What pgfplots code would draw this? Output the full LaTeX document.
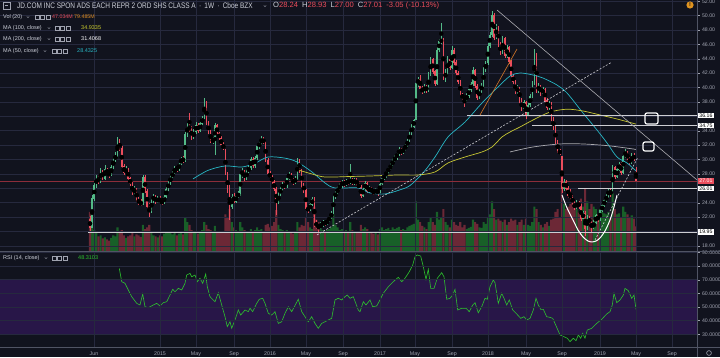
\documentclass[border=0pt]{standalone}
\usepackage{fontspec}
\setmainfont{Liberation Sans}
\usepackage{pgfplots}
\usepackage{pgfplotstable}
\pgfplotsset{compat=1.18}
\definecolor{bg}{RGB}{17,19,30}
\definecolor{gridc}{RGB}{38,41,62}
\definecolor{txt}{RGB}{205,208,218}
\definecolor{tickc}{RGB}{160,163,176}
\definecolor{cgreen}{RGB}{83,185,135}
\definecolor{cred}{RGB}{235,77,92}
\definecolor{vgreen}{RGB}{24,96,40}
\definecolor{vred}{RGB}{108,40,54}
\definecolor{ma50}{RGB}{40,182,196}
\definecolor{ma100}{RGB}{200,200,52}
\definecolor{ma200}{RGB}{170,170,175}
\definecolor{rsic}{RGB}{45,195,45}
\definecolor{band}{RGB}{40,22,72}
\definecolor{orangec}{RGB}{215,120,40}
\definecolor{sepc}{RGB}{80,84,100}
\definecolor{wl}{RGB}{205,205,210}
\definecolor{rline}{RGB}{140,45,58}

\pgfplotstableread{
o h l c v
21.75 22.10 20.10 20.50 75
20.60 25.10 20.50 24.60 60
24.60 26.80 24.20 26.40 40
26.40 27.90 26.00 27.50 35
27.50 27.80 26.60 27.00 28
27.00 28.80 26.80 28.40 30
28.40 28.60 27.20 27.40 24
27.40 29.20 27.20 28.60 26
28.60 28.90 27.80 28.10 22
28.10 28.50 27.40 27.90 20
27.90 29.30 27.70 28.90 25
28.90 30.40 28.70 30.00 30
30.00 31.00 29.60 30.60 28
30.60 33.10 30.40 32.40 45
32.40 32.80 31.20 31.60 35
31.60 31.90 28.80 29.00 40
29.00 29.40 27.90 28.20 30
28.20 29.10 27.90 28.60 25
28.60 28.80 27.10 27.40 28
27.40 27.60 26.30 26.60 30
26.60 26.90 25.10 25.40 35
25.40 26.30 25.10 25.80 28
25.80 26.00 24.10 24.40 32
24.40 24.80 23.70 24.00 30
24.00 24.50 23.50 23.80 27
23.80 27.90 23.70 27.50 50
27.50 27.80 25.30 25.60 42
25.60 25.90 23.10 23.40 45
23.40 23.90 22.00 22.90 50
22.90 24.70 22.60 24.40 38
24.40 25.20 24.00 24.90 30
24.90 25.10 23.80 24.10 28
24.10 24.90 23.90 24.60 26
24.60 24.90 23.90 24.20 30
24.20 24.50 23.70 24.00 28
24.00 25.10 23.80 24.80 33
24.80 26.20 24.60 25.90 36
25.90 27.00 25.70 26.80 38
26.80 27.90 26.50 27.60 35
27.60 28.40 27.40 28.10 32
28.10 29.10 27.90 28.80 34
28.80 29.20 28.30 28.60 30
28.60 29.70 28.40 29.40 33
29.40 30.40 29.20 30.10 35
30.10 30.50 29.50 29.80 32
29.80 33.80 29.60 33.50 65
33.50 35.10 33.20 34.60 55
34.60 36.50 33.90 34.30 50
34.30 34.70 32.70 33.00 40
33.00 34.20 32.80 33.90 35
33.90 35.20 33.50 34.80 38
34.80 35.10 33.70 34.00 33
34.00 35.30 33.80 35.00 35
35.00 36.10 34.80 35.80 40
35.80 38.50 35.60 37.90 55
37.90 38.10 34.80 35.00 50
35.00 35.30 33.50 33.80 42
33.80 34.10 32.30 32.60 40
32.60 33.20 32.20 32.60 35
32.60 35.10 30.60 34.70 48
34.70 35.00 33.30 33.60 38
33.60 33.90 32.70 33.00 35
33.00 33.30 31.70 32.00 36
32.00 32.40 31.30 31.60 34
31.20 31.50 27.80 28.00 70
28.00 28.30 25.30 25.60 65
25.60 26.40 21.60 23.40 80
23.40 25.20 23.10 24.80 55
24.80 25.30 23.90 24.20 45
24.20 25.20 23.90 24.90 40
24.90 25.60 24.60 25.20 38
25.20 28.20 25.00 27.90 55
27.90 28.90 27.50 28.30 45
28.30 28.50 27.00 27.30 40
27.30 28.70 27.10 28.40 38
28.40 29.20 28.10 28.80 36
28.80 30.40 28.60 30.00 42
30.00 30.30 28.90 29.20 38
29.20 30.50 28.90 30.20 40
30.20 32.10 30.00 31.80 45
31.80 32.60 31.50 32.30 40
32.30 33.30 32.00 32.80 42
32.80 33.10 32.10 32.40 36
32.40 32.60 29.70 29.90 50
29.90 30.20 27.80 28.00 52
28.00 28.40 27.30 27.60 45
27.60 27.90 26.60 26.90 48
26.90 27.20 25.60 25.90 55
25.90 26.20 22.30 24.00 78
24.00 25.50 23.80 25.20 50
25.20 26.30 24.90 26.00 42
26.00 26.90 25.70 26.60 40
26.60 26.90 25.90 26.20 36
26.20 27.70 26.00 27.40 40
27.40 28.30 27.20 27.90 38
27.90 28.10 26.90 27.20 35
27.20 27.40 26.50 26.80 33
26.80 27.70 26.60 27.40 35
27.40 30.20 27.20 29.90 55
29.90 30.10 28.20 28.50 45
28.50 28.70 26.10 26.40 50
26.40 26.70 25.40 25.70 48
25.70 25.90 22.90 23.20 65
23.20 23.60 22.60 23.00 55
23.00 24.10 22.80 23.80 45
23.80 24.80 23.50 24.50 42
24.50 24.80 20.60 21.20 85
21.20 21.60 20.40 20.80 60
20.80 21.20 20.00 20.60 55
20.60 21.30 20.40 20.90 45
20.90 21.60 20.70 21.30 40
21.30 21.50 20.80 21.10 38
21.10 21.80 20.90 21.50 40
21.50 22.20 21.30 21.90 42
21.90 22.90 21.70 22.60 45
22.60 25.10 22.40 24.80 70
24.80 25.70 24.50 25.40 50
25.40 26.30 25.10 26.00 45
26.00 26.70 25.70 26.40 40
26.40 27.20 26.10 26.90 42
26.90 27.10 26.20 26.50 38
26.50 27.30 26.30 27.00 40
27.00 27.20 26.50 26.80 36
26.80 29.40 26.60 27.30 55
27.30 27.50 26.40 26.70 40
26.70 27.50 26.50 27.20 38
27.20 27.40 26.30 26.60 36
26.60 26.80 25.90 26.20 38
26.20 26.40 24.70 25.00 50
25.00 26.20 24.80 25.90 42
25.90 27.00 25.70 26.70 45
26.70 26.90 25.30 25.60 42
25.60 26.30 25.40 26.00 38
26.00 26.20 25.30 25.60 35
25.60 25.80 25.10 25.40 33
25.40 26.10 25.20 25.80 35
25.80 26.00 25.00 25.50 32
25.50 26.90 25.30 26.60 42
26.60 27.70 26.40 27.40 45
27.40 28.10 27.10 27.80 40
27.80 28.60 27.50 28.30 42
28.30 29.10 28.00 28.80 44
28.80 29.50 28.50 29.20 40
29.20 30.20 28.90 29.90 45
29.90 30.60 29.60 30.30 42
30.30 31.10 30.00 30.80 44
30.80 31.70 30.50 31.40 46
31.40 31.60 30.60 31.00 40
31.00 31.80 30.80 31.50 42
31.50 32.20 31.20 31.90 40
31.90 32.90 31.70 32.60 45
32.60 33.90 32.40 33.60 48
33.60 34.90 33.40 34.60 50
34.60 35.70 34.40 35.40 52
35.60 40.90 35.50 40.60 95
40.60 41.50 40.10 41.20 60
41.20 41.80 39.50 39.80 55
39.80 40.20 39.10 39.50 48
39.50 40.50 39.20 40.10 45
40.10 40.40 39.30 39.60 42
39.60 42.20 39.40 41.80 55
41.80 44.30 41.60 43.90 65
43.90 44.10 41.90 42.20 55
42.20 42.40 40.20 40.50 50
40.50 45.60 40.30 45.20 75
45.20 46.70 44.90 46.40 60
46.40 49.00 46.00 46.60 65
46.60 46.90 41.00 41.50 80
41.50 42.60 40.80 42.00 55
42.00 44.40 41.70 44.00 50
44.00 44.20 42.40 42.80 45
42.80 45.80 42.60 45.20 60
45.20 45.50 43.20 43.50 55
43.50 43.80 41.70 42.00 50
42.00 42.30 40.50 40.80 48
40.80 41.10 38.70 39.00 55
39.00 39.30 38.30 38.60 45
38.60 38.90 37.30 38.30 50
38.30 39.30 38.00 38.90 42
38.90 40.00 38.60 39.70 44
39.70 40.80 39.40 40.50 46
40.50 42.90 40.20 42.40 60
42.40 42.60 39.90 40.20 55
40.20 40.50 38.30 38.60 52
38.60 39.90 38.40 39.60 45
39.60 40.60 39.30 40.30 44
40.30 42.80 40.10 42.50 55
42.50 43.70 42.20 43.40 52
43.40 46.20 43.20 45.80 65
45.80 47.70 45.50 47.30 70
47.30 50.70 47.00 50.00 95
50.00 50.30 46.60 47.00 80
47.00 48.80 46.70 48.40 60
48.40 48.60 45.70 46.00 62
46.00 46.30 44.50 44.80 58
44.80 47.20 44.60 46.80 55
46.80 47.00 44.10 44.40 60
44.40 45.90 44.10 45.60 50
45.60 45.80 43.30 43.60 55
43.60 43.90 41.30 41.60 62
41.60 41.90 40.50 40.80 58
40.80 41.10 39.10 39.40 60
39.40 40.30 39.10 39.90 50
39.90 40.10 37.90 38.20 55
38.20 38.50 36.70 37.00 60
37.00 38.30 36.80 38.00 50
38.00 38.20 35.60 36.20 62
36.20 37.90 36.00 37.60 50
37.60 39.10 37.30 38.80 48
38.80 40.90 38.50 40.60 55
40.60 45.40 40.30 44.50 85
44.50 44.80 39.30 39.60 80
39.60 40.60 39.30 40.20 55
40.20 40.40 38.90 39.20 50
39.20 40.10 38.90 39.80 45
39.80 40.00 37.90 38.20 52
38.20 38.50 36.90 37.20 55
37.20 38.10 36.90 37.80 48
37.80 38.00 35.30 35.60 60
35.60 35.90 34.10 34.40 62
34.40 34.70 32.10 32.40 75
32.40 32.70 30.90 31.20 80
31.20 31.50 30.60 30.90 65
30.40 30.50 25.40 26.00 140
26.00 27.30 25.70 26.90 90
26.90 27.10 25.70 26.00 80
26.00 26.30 24.70 25.00 85
25.00 25.90 24.40 24.80 90
24.80 25.10 23.60 23.90 95
23.90 24.20 23.00 23.30 85
23.30 24.40 23.10 24.00 80
24.00 24.30 23.20 23.50 75
23.50 23.80 21.50 21.80 100
21.80 22.90 21.50 22.60 85
22.60 22.90 19.40 20.40 120
20.40 22.30 20.20 21.80 95
21.80 22.10 21.00 21.30 80
21.30 21.60 20.00 20.50 90
20.50 21.70 20.30 21.20 85
21.20 22.50 21.00 22.20 80
22.20 22.40 21.30 21.60 70
21.60 23.20 21.40 22.90 80
22.90 23.90 22.70 23.60 75
23.60 24.60 23.40 24.30 72
24.30 25.20 24.10 24.90 70
24.90 26.10 24.70 25.80 75
25.80 26.00 24.80 25.10 65
25.40 29.20 25.30 28.90 110
28.90 29.10 27.30 27.60 80
27.60 28.90 27.40 28.60 70
28.60 29.70 28.40 29.40 72
29.40 29.60 27.90 28.20 65
28.20 30.80 28.00 30.50 85
30.50 31.50 30.20 31.00 75
31.00 31.20 29.70 30.00 70
30.00 30.30 29.30 29.60 65
29.60 30.90 29.40 30.60 68
30.60 30.90 29.80 30.06 62
28.24 28.93 27.00 27.01 47
}\jd

\newcommand{\chev}[2]{\draw[tickc,line width=0.4pt] (#1pt-1.2pt,#2pt+0.6pt)--(#1pt,#2pt-0.6pt)--(#1pt+1.2pt,#2pt+0.6pt);}
\newcommand{\icons}[2]{\foreach \k in {0,1,2}{\draw[tickc,line width=0.4pt] (#1pt+\k*5.5pt,#2pt-2pt) rectangle ++(4pt,4pt);}}
\newcommand{\fs}[1]{\fontsize{#1}{#1}\selectfont}

\pgfplotsset{
  panel/.style={scale only axis, anchor=south west, width=697pt, xmin=0, xmax=697,
    axis line style={draw=none}, grid=major, grid style={gridc, line width=0.6pt},
    xtick={94,160,196,234,270,306,343,380,415,452,488,526,562,600,636,672},
    xtick style={draw=none}, ytick pos=right, ytick align=outside, major tick length=2.5pt,
    ytick style={tickc, line width=0.4pt},
    yticklabel style={font=\fs{5.2}, text=tickc, anchor=west, xshift=-1pt},
  }
}

\begin{document}
\begin{tikzpicture}
\useasboundingbox (0,0) rectangle (720pt,357pt);
\fill[bg] (0,0) rectangle (720pt,357pt);

% volume overlay
\begin{axis}[scale only axis, anchor=south west, at={(0pt,106pt)}, width=697pt, height=251pt,
  xmin=0, xmax=697, ymin=0, ymax=480, hide axis]
\addplot[ybar, bar width=2.116, bar shift=0pt, fill=vgreen, draw=none,
  restrict expr to domain={\thisrow{c}-\thisrow{o}}{0:1000}]
  table[x expr=90+2.116*\coordindex, y=v]{\jd};
\addplot[ybar, bar width=2.116, bar shift=0pt, fill=vred, draw=none,
  restrict expr to domain={\thisrow{c}-\thisrow{o}}{-1000:-0.000001}]
  table[x expr=90+2.116*\coordindex, y=v]{\jd};
\end{axis}

% main price panel
\begin{axis}[panel, at={(0pt,106pt)}, height=251pt, ymin=17.30, ymax=52.17, clip=false,
  xticklabels={},
  ytick={18,20,...,52},
  yticklabels={18.00,,22.00,24.00,,28.00,30.00,32.00,34.00,,38.00,40.00,42.00,44.00,46.00,48.00,50.00,52.00}]
% price line
\addplot[rline, line width=0.6pt] coordinates {(0,27.01) (697,27.01)};
% wicks
\addplot[only marks, mark=none, restrict expr to domain={\thisrow{c}-\thisrow{o}}{0:1000},
  error bars/.cd, y dir=both, y explicit, error mark=none, error bar style={cgreen, line width=0.45pt}]
  table[x expr=90+2.116*\coordindex, y expr=0.5*(\thisrow{h}+\thisrow{l}), y error expr=0.5*(\thisrow{h}-\thisrow{l})]{\jd};
\addplot[only marks, mark=none, restrict expr to domain={\thisrow{c}-\thisrow{o}}{-1000:-0.000001},
  error bars/.cd, y dir=both, y explicit, error mark=none, error bar style={cred, line width=0.45pt}]
  table[x expr=90+2.116*\coordindex, y expr=0.5*(\thisrow{h}+\thisrow{l}), y error expr=0.5*(\thisrow{h}-\thisrow{l})]{\jd};
% bodies
\addplot[only marks, mark=none, restrict expr to domain={\thisrow{c}-\thisrow{o}}{0:1000},
  error bars/.cd, y dir=both, y explicit, error mark=none, error bar style={cgreen, line width=1.5pt}]
  table[x expr=90+2.116*\coordindex, y expr=0.5*(\thisrow{o}+\thisrow{c}), y error expr=0.5*abs(\thisrow{c}-\thisrow{o})+0.04]{\jd};
\addplot[only marks, mark=none, restrict expr to domain={\thisrow{c}-\thisrow{o}}{-1000:-0.000001},
  error bars/.cd, y dir=both, y explicit, error mark=none, error bar style={cred, line width=1.5pt}]
  table[x expr=90+2.116*\coordindex, y expr=0.5*(\thisrow{o}+\thisrow{c}), y error expr=0.5*abs(\thisrow{c}-\thisrow{o})+0.04]{\jd};
% moving averages
\addplot[ma50, line width=0.7pt, smooth] coordinates {(193,27.31) (208,28.5) (225,29.11) (242,28.97) (255,29.5) (268,30.36) (285,30.2) (297,29.67) (312,28.28) (325,26.75) (335,26.06) (358,26.06) (370,25.36) (385,25.22) (400,25.8) (410,26.4) (423,28.14) (435,30.36) (448,33.14) (465,35.22) (482,37.86) (498,40.08) (510,41.6) (520,42.03) (533,41.75) (543,41.33) (557,40.36) (567,39.25) (583,36.47) (597,34.11) (607,32.31) (617,30.36) (627,29.53) (636,28.43)};
\addplot[ma100, line width=0.7pt, smooth] coordinates {(298,28.56) (312,28.0) (325,27.58) (350,27.65) (370,27.72) (398,27.86) (418,27.86) (435,28.28) (448,29.53) (465,30.36) (482,31.06) (492,31.75) (502,33.14) (510,33.83) (520,34.53) (533,35.5) (550,36.6) (567,37.0) (583,36.75) (600,36.2) (617,35.64) (636,34.93)};
\addplot[ma200, line width=0.7pt, smooth] coordinates {(510,31.06) (533,31.75) (560,32.17) (583,32.17) (610,31.9) (636,31.41)};
% drawings
\addplot[wl, line width=0.7pt] coordinates {(467,36.16) (697,36.16)};
\addplot[wl, line width=0.7pt] coordinates {(532,34.75) (697,34.75)};
\addplot[wl, line width=0.7pt] coordinates {(578,26.01) (697,26.01)};
\addplot[wl, line width=0.7pt] coordinates {(88,19.95) (697,19.95)};
\addplot[ma200, line width=0.6pt] coordinates {(497,50.78) (697,27.17)};
\addplot[wl, line width=0.6pt, dash pattern=on 2pt off 1.6pt] coordinates {(317,19.53) (612,43.56)};
\addplot[wl, line width=0.6pt, dash pattern=on 2pt off 1.6pt] coordinates {(595,18.83) (638,30.36)};
\addplot[orangec, line width=0.6pt] coordinates {(480,36.19) (517,45.36)};
\addplot[white, line width=1pt, smooth] coordinates {(562,25.08) (567,23.28) (573,21.61) (578,20.22) (583,19.25) (588,18.69) (592,18.56) (596,18.69) (600,19.11) (605,20.08) (610,21.61) (614,23.42) (617,25.08)};
\draw[white, line width=1.2pt, rounded corners=2pt] (axis cs:645,36.47) rectangle (axis cs:658,34.94);
\draw[white, line width=1.2pt, rounded corners=2pt] (axis cs:643,32.44) rectangle (axis cs:654,31.19);
% price labels
\node[fill=white, text=black, inner xsep=1.2pt, inner ysep=0.8pt, anchor=west, font=\fs{5.2}] at (axis cs:698,36.16) {36.16};
\node[fill=white, text=black, inner xsep=1.2pt, inner ysep=0.8pt, anchor=west, font=\fs{5.2}] at (axis cs:698,34.75) {34.75};
\node[fill=white, text=black, inner xsep=1.2pt, inner ysep=0.8pt, anchor=west, font=\fs{5.2}] at (axis cs:698,26.01) {26.01};
\node[fill=white, text=black, inner xsep=1.2pt, inner ysep=0.8pt, anchor=west, font=\fs{5.2}] at (axis cs:698,19.95) {19.95};
\node[fill=cred, text=white, inner xsep=1.2pt, inner ysep=0.8pt, anchor=west, font=\fs{5.2}] at (axis cs:698,27.01) {27.01};
\end{axis}

% RSI panel
\begin{axis}[panel, at={(0pt,10pt)}, height=95pt, ymin=20.67, ymax=90.37, axis on top,
  xticklabels={Jun,2015,May,Sep,2016,May,Sep,2017,May,Sep,2018,May,Sep,2019,May,Sep},
  xticklabel style={font=\fs{5.3}, text=tickc, yshift=-1.5pt},
  ytick={30,40,...,90},
  yticklabels={30.0000,40.0000,50.0000,60.0000,70.0000,80.0000,90.0000}]
\fill[band] (axis cs:0,30) rectangle (axis cs:697,70);
\addplot[wl!80!black, line width=0.6pt, dash pattern=on 2.5pt off 1.8pt] coordinates {(0,70) (697,70)};
\addplot[wl!80!black, line width=0.6pt, dash pattern=on 2.5pt off 1.8pt] coordinates {(0,30) (697,30)};
\addplot[rsic, line width=0.6pt] coordinates {(119.3,78.4) (121.7,68.6) (125,67.4) (128.3,62.5) (131.7,57.6) (136.7,52.7) (140,51.5) (142.7,59.5) (145,50.2) (148.3,49.5) (153.3,51.5) (156.7,52.7) (160,50.8) (163.3,53.2) (166.7,53.9) (170,58.8) (172.7,63) (175,61.2) (178.3,63.7) (181.7,62.5) (185,67.4) (186.7,73.5) (190,74.7) (191.7,72.2) (195,73.5) (197.3,68.6) (200,71.1) (202.7,67.4) (205.7,74.2) (207.3,64.9) (210,57.6) (215,53.9) (218.3,60.5) (221.7,51.5) (225,42.9) (227.3,35.6) (230,39.2) (231.7,34.4) (235,40.5) (238.3,47.8) (240.7,44.1) (245,47.8) (248.3,46.6) (250,49.1) (252.7,46.6) (256.7,52.7) (259.3,55.7) (262.7,56.4) (265,52.7) (268.3,45.4) (271.7,44.1) (275,46.6) (278.3,38) (281.7,39.2) (285,45.4) (288.3,50.2) (291.7,46.6) (298.3,55.7) (301.7,46.6) (305,42.9) (308.3,39.2) (311.7,42.9) (315,38) (318.3,34.4) (321.7,38) (325,39.2) (328.3,40.5) (331.7,41.7) (335,55.2) (338.3,56.4) (341.7,55.2) (345,57.6) (347.3,58.8) (350,56.4) (353.3,57.6) (358.3,47.8) (360,46.6) (363.3,53.9) (366,51.5) (370,55.2) (372.7,50.2) (376.7,50.8) (380,55.2) (383.3,60.1) (388.3,64.9) (393.3,68.6) (398.3,71.8) (401.7,68.6) (405,71.1) (409.3,75.9) (412.7,80.8) (415,86.9) (417.3,88.2) (420.7,87.4) (423.3,79.6) (426,70.3) (428.3,77.7) (430.7,63.7) (434,63.7) (437.3,71.1) (441.7,75.2) (444,72.2) (446.7,55.7) (450,56.4) (452.7,58.8) (455,63) (457.7,47.8) (461.7,49.1) (466,49.1) (469.3,46.6) (472.7,51.5) (475,53.2) (478.3,45.8) (481.7,50.2) (485,56.4) (487.3,55.7) (490,64.9) (493.3,69.8) (495,67.8) (498.3,52.7) (501.7,60.1) (504,56.4) (506.7,51.5) (509.3,55.2) (512.7,47.8) (516.7,44.9) (520.7,41.7) (524,42.9) (526.7,40.5) (530,41.7) (533.3,47.8) (536,56.4) (538.3,51.5) (540.7,48.3) (543.3,48.3) (546.7,42.9) (550,42.4) (552.7,41.7) (556.7,35.1) (560,29.5) (564,28.2) (567.3,27.1) (570,24.6) (573.3,27.1) (576,25.3) (578.3,29.5) (580.7,27.1) (582.7,30.7) (585,27.1) (587.3,33.1) (591.7,34.4) (596.7,38) (601.7,41) (606.7,44.9) (610,46.6) (612.3,51.5) (614,60.1) (616.7,53.2) (620,55.2) (623.3,58.8) (625,63.7) (628.3,62) (631.7,56.4) (634,58.8) (636,48.3)};
\end{axis}

% separators
\draw[sepc, line width=0.8pt] (0,106pt) -- (720pt,106pt);
\draw[sepc, line width=0.6pt] (0,10pt) -- (720pt,10pt);
\draw[sepc, line width=0.6pt] (697pt,0pt) -- (697pt,357pt);

% header
\draw[tickc, line width=0.4pt] (3pt,348pt) rectangle (10pt,355pt);
\draw[tickc, line width=0.4pt] (4.8pt,351.5pt) -- (8.2pt,351.5pt);
\node[anchor=west, inner sep=0pt, text=txt, font=\fs{8}] at (17pt,351pt) {\scalebox{0.81}[1]{JD.COM INC SPON ADS EACH REPR 2 ORD SHS CLASS A\hspace{4pt}·\hspace{4pt}1W\hspace{4pt}·\hspace{4pt}Cboe BZX}};
\chev{265}{351}
\node[anchor=west, inner sep=0pt, font=\fs{7.6}] at (273pt,351pt) {\color{txt}O\color{cred}28.24\hspace{4pt}\color{txt}H\color{cred}28.93\hspace{4pt}\color{txt}L\color{cred}27.00\hspace{4pt}\color{txt}C\color{cred}27.01\hspace{4pt}-3.05 (-10.13\%)};
\fill[orangec!80!yellow] (690pt,352pt) circle (3.6pt);
\node[text=bg, font=\bfseries\fs{5.5}, inner sep=0pt] at (690pt,352pt) {!};

% legend rows
\node[anchor=west, inner sep=0pt, text=txt, font=\fs{5.5}] at (3pt,340pt) {Vol (20)};
\chev{28}{340} \icons{35}{340}
\node[anchor=west, inner sep=0pt, text=cred, font=\fs{5.3}] at (52pt,340pt) {47.034M};
\node[anchor=west, inner sep=0pt, text=orangec!85!yellow, font=\fs{5.3}] at (74pt,340pt) {79.485M};

\node[anchor=west, inner sep=0pt, text=txt, font=\fs{5.5}] at (3pt,329pt) {MA (100, close)};
\chev{49}{329} \icons{55}{329}
\node[anchor=west, inner sep=0pt, text=ma100!90!yellow, font=\fs{5.5}] at (81pt,329pt) {34.9335};

\node[anchor=west, inner sep=0pt, text=txt, font=\fs{5.5}] at (3pt,318pt) {MA (200, close)};
\chev{49}{318} \icons{55}{318}
\node[anchor=west, inner sep=0pt, text=white, font=\fs{5.5}] at (81pt,318pt) {31.4068};

\node[anchor=west, inner sep=0pt, text=txt, font=\fs{5.5}] at (3pt,306pt) {MA (50, close)};
\chev{45}{306} \icons{52}{306}
\node[anchor=west, inner sep=0pt, text=ma50, font=\fs{5.5}] at (77pt,306pt) {28.4325};

% RSI legend
\node[anchor=west, inner sep=0pt, text=txt, font=\fs{5.5}] at (3pt,99pt) {RSI (14, close)};
\chev{46}{99} \icons{52}{99}
\node[anchor=west, inner sep=0pt, text=rsic, font=\fs{5.5}] at (78pt,99pt) {48.3103};

% gear
\draw[tickc, line width=0.6pt] (709pt,4pt) circle (2.4pt);
\end{tikzpicture}
\end{document}
